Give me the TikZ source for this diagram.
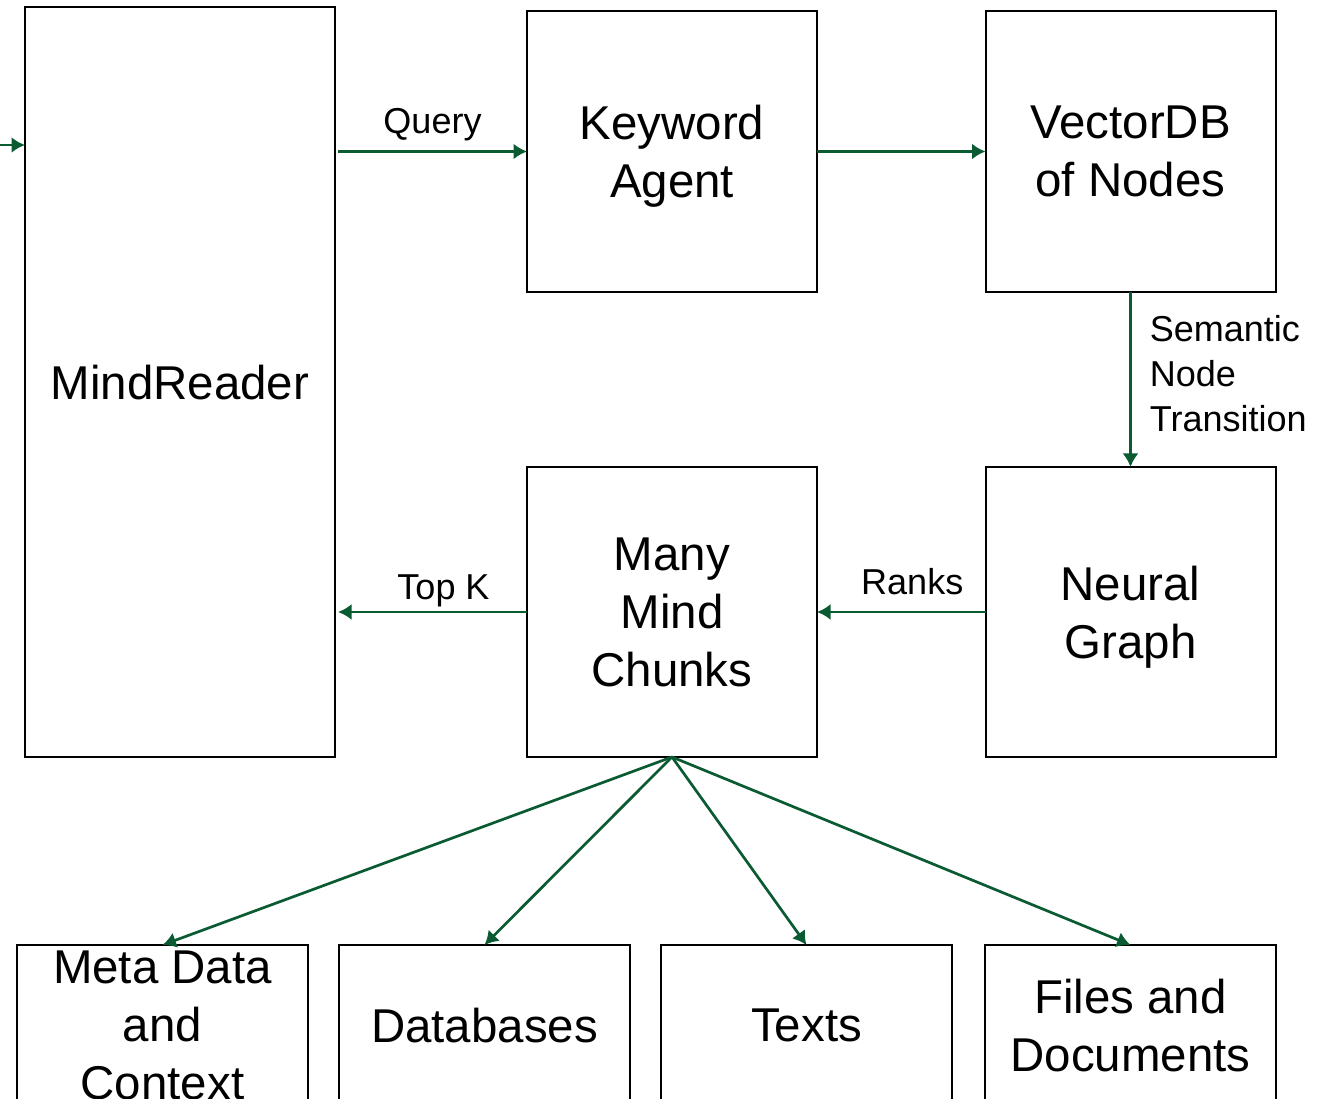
\documentclass[tikz,border=0pt]{standalone}
\usepackage{fontspec}
\setmainfont{Liberation Sans}
\usetikzlibrary{positioning, arrows.meta}
\definecolor{flowgreen}{RGB}{10,90,50}

\begin{document}
\begin{tikzpicture}[node distance=9.2cm, >={Latex[length=0.27cm,width=0.32cm]}]
        \tikzstyle{blk}=[draw, rectangle, line width=0.04cm, inner sep=0pt, outer sep=0pt, align=center, text depth=0pt, font=\fontsize{27}{33}\selectfont];
        \tikzstyle{lbl}=[inner sep=0pt, text=black, font=\fontsize{20.5}{25.6}\selectfont];
        \tikzstyle{flow}=[color=flowgreen, line width=0.054cm];
        \useasboundingbox (0,0) rectangle (26.4,-21.98);
        \clip (0,0) rectangle (26.4,-21.98);
        \node[blk, minimum width=6.2cm, minimum height=15cm] (mind) at (3.6,-7.64) {MindReader};
        \node[blk, minimum width=5.8cm, minimum height=5.62cm] (kw) at (13.44,-3.03) {Keyword\\Agent};
        \node[blk, minimum width=5.8cm, minimum height=5.62cm, right of=kw, node distance=9.17cm] (vdb) {VectorDB\\of Nodes};
        \node[blk, minimum width=5.8cm, minimum height=5.8cm, below of=vdb, node distance=9.21cm] (ng) {Neural\\Graph};
        \node[blk, minimum width=5.8cm, minimum height=5.8cm, left of=ng, node distance=9.17cm] (many) {Many\\Mind\\Chunks};
        \node[blk, minimum width=5.82cm, minimum height=3.2cm] (meta) at (3.25,-20.5) {Meta Data\\and\\Context};
        \node[blk, minimum width=5.82cm, minimum height=3.2cm, right of=meta, node distance=6.44cm] (db) {Databases};
        \node[blk, minimum width=5.82cm, minimum height=3.2cm, right of=db, node distance=6.44cm] (txt) {Texts};
        \node[blk, minimum width=5.82cm, minimum height=3.2cm, right of=txt, node distance=6.48cm] (files) {Files and\\Documents};
        \coordinate (entry) at (0,-2.9);

        \path[->, flow]
        (entry) edge (entry -| mind.west)
        ([xshift=0.06cm]mind.east |- kw) edge node[lbl, anchor=base, yshift=0.36cm] {Query} (kw)
        (kw) edge (vdb)
        (vdb) edge node[lbl, right, align=left, xshift=0.36cm, yshift=0.12cm] {Semantic\\Node\\Transition} (ng)
        (ng) edge node[lbl, anchor=base, yshift=0.34cm, xshift=0.22cm] {Ranks} (many)
        (many) edge node[lbl, anchor=base, yshift=0.24cm, xshift=0.22cm] {Top K} ([xshift=0.06cm]mind.east |- many)
        (many.south) edge (meta.north)
        (many.south) edge (db.north)
        (many.south) edge (txt.north)
        (many.south) edge (files.north);
      \end{tikzpicture}
\end{document}
